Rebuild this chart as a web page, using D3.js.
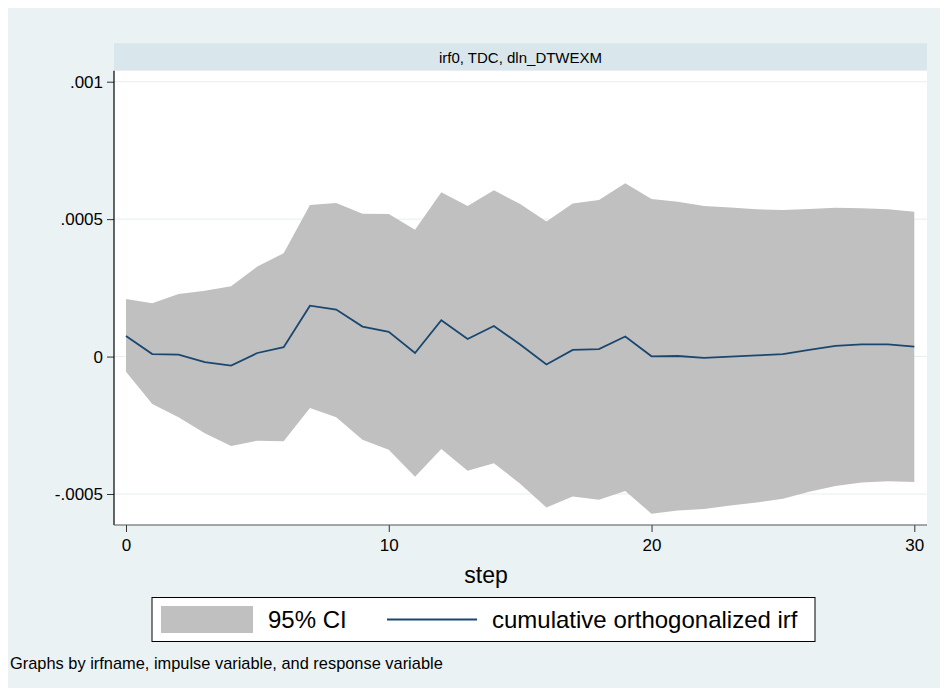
<!DOCTYPE html>
<html>
<head>
<meta charset="utf-8">
<script src="https://cdn.jsdelivr.net/npm/d3@7"></script>
<style>
  body { margin: 0; background: #ffffff; }
  text { font-family: "Liberation Sans", Arial, Helvetica, sans-serif; fill: #000; }
</style>
</head>
<body>
<div id="chart"></div>
<script>
// Data
const steps = d3.range(0, 31);
const irf = [0.75, 0.09, 0.07, -0.20, -0.33, 0.13, 0.34, 1.85, 1.71, 1.09,
             0.90, 0.13, 1.32, 0.64, 1.11, 0.44, -0.29, 0.24, 0.27, 0.73,
             0.01, 0.02, -0.05, 0.00, 0.04, 0.09, 0.24, 0.39, 0.44, 0.44, 0.36].map(v => v * 1e-4);
const upper = [2.09, 1.94, 2.28, 2.39, 2.56, 3.28, 3.76, 5.51, 5.59, 5.20,
               5.19, 4.61, 5.98, 5.48, 6.05, 5.55, 4.91, 5.57, 5.70, 6.31,
               5.73, 5.63, 5.48, 5.42, 5.36, 5.33, 5.37, 5.41, 5.40, 5.36, 5.27].map(v => v * 1e-4);
const lower = [-0.55, -1.73, -2.21, -2.79, -3.25, -3.06, -3.08, -1.87, -2.21, -3.03,
               -3.39, -4.37, -3.36, -4.15, -3.88, -4.63, -5.49, -5.09, -5.21, -4.89,
               -5.72, -5.60, -5.55, -5.42, -5.31, -5.17, -4.92, -4.71, -4.58, -4.54, -4.56].map(v => v * 1e-4);
const yTicks = [-0.0005, 0, 0.0005, 0.001];
const yTickLabels = ['-.0005', '0', '.0005', '.001'];
const xTicks = [0, 10, 20, 30];

const Theme = {
  bg: '#eaf2f3',
  strip: '#d9e6eb',
  grid: '#e6eef1',
  ci: '#c0c0c0',
  line: '#1a476f'
};

const width = 948, height = 696;
const plot = { left: 114, right: 927, top: 70.7, bottom: 525 };

const svg = d3.select('#chart').append('svg')
  .attr('width', width)
  .attr('height', height);

// Graph region background
svg.append('rect')
  .attr('x', 8).attr('y', 8)
  .attr('width', width - 16).attr('height', height - 16)
  .attr('fill', Theme.bg);

// Header strip
svg.append('rect')
  .attr('x', plot.left).attr('y', 43.3)
  .attr('width', plot.right - plot.left).attr('height', plot.top - 43.3)
  .attr('fill', Theme.strip);
svg.append('text')
  .attr('x', (plot.left + plot.right) / 2).attr('y', 62.5)
  .attr('text-anchor', 'middle')
  .style('font-size', '15px')
  .text('irf0, TDC, dln_DTWEXM');

// Plot region
svg.append('rect')
  .attr('x', plot.left).attr('y', plot.top)
  .attr('width', plot.right - plot.left).attr('height', plot.bottom - plot.top)
  .attr('fill', '#ffffff');

// Scales
const xScale = d3.scaleLinear().domain([0, 30]).range([126, 914.3]);
const yScale = d3.scaleLinear().domain([-0.0005, 0.001]).range([494, 81.7]);

// Grid lines
svg.append('g')
  .selectAll('line')
  .data(yTicks)
  .join('line')
    .attr('x1', plot.left).attr('x2', plot.right)
    .attr('y1', d => yScale(d)).attr('y2', d => yScale(d))
    .attr('stroke', Theme.grid)
    .attr('stroke-width', 1);

// CI band
const area = d3.area()
  .x((d, i) => xScale(steps[i]))
  .y0((d, i) => yScale(lower[i]))
  .y1((d, i) => yScale(upper[i]));
svg.append('path')
  .datum(steps)
  .attr('d', area)
  .attr('fill', Theme.ci);

// IRF line
const line = d3.line()
  .x((d, i) => xScale(steps[i]))
  .y((d, i) => yScale(irf[i]));
svg.append('path')
  .datum(steps)
  .attr('d', line)
  .attr('fill', 'none')
  .attr('stroke', Theme.line)
  .attr('stroke-width', 1.8);

// Y axis
const yAxis = d3.axisLeft(yScale)
  .tickValues(yTicks)
  .tickFormat((d, i) => yTickLabels[i])
  .tickSize(7)
  .tickSizeOuter(0)
  .tickPadding(4);
const gy = svg.append('g')
  .attr('transform', `translate(${plot.left},0)`)
  .call(yAxis);
gy.select('.domain').remove();
gy.selectAll('.tick line').attr('stroke', '#333');
gy.selectAll('.tick text')
  .style('font-size', '17px')
  .style('font-family', '"Liberation Sans", Arial, sans-serif')
  .attr('fill', '#000');
svg.append('line')
  .attr('x1', plot.left).attr('x2', plot.left)
  .attr('y1', plot.top).attr('y2', plot.bottom)
  .attr('stroke', '#000').attr('stroke-width', 1.2);

// X axis
const xAxis = d3.axisBottom(xScale)
  .tickValues(xTicks)
  .tickSize(7)
  .tickSizeOuter(0)
  .tickPadding(7);
const gx = svg.append('g')
  .attr('transform', `translate(0,${plot.bottom})`)
  .call(xAxis);
gx.select('.domain').remove();
gx.selectAll('.tick line').attr('stroke', '#333');
gx.selectAll('.tick text')
  .style('font-size', '17px')
  .style('font-family', '"Liberation Sans", Arial, sans-serif')
  .attr('fill', '#000');
svg.append('line')
  .attr('x1', plot.left).attr('x2', plot.right)
  .attr('y1', plot.bottom).attr('y2', plot.bottom)
  .attr('stroke', '#555').attr('stroke-width', 1.2);

// X title
svg.append('text')
  .attr('x', 486).attr('y', 583)
  .attr('text-anchor', 'middle')
  .style('font-size', '23px')
  .text('step');

// Legend
const legend = svg.append('g');
legend.append('rect')
  .attr('x', 152).attr('y', 597.5)
  .attr('width', 663).attr('height', 44)
  .attr('fill', '#ffffff')
  .attr('stroke', '#000').attr('stroke-width', 1);
legend.append('rect')
  .attr('x', 161).attr('y', 606)
  .attr('width', 92).attr('height', 27)
  .attr('fill', Theme.ci);
legend.append('text')
  .attr('x', 268).attr('y', 628)
  .style('font-size', '24px')
  .text('95% CI');
legend.append('line')
  .attr('x1', 387).attr('x2', 477)
  .attr('y1', 619.5).attr('y2', 619.5)
  .attr('stroke', Theme.line).attr('stroke-width', 2);
legend.append('text')
  .attr('x', 492).attr('y', 628)
  .style('font-size', '24px')
  .text('cumulative orthogonalized irf');

// Note
svg.append('text')
  .attr('x', 10).attr('y', 669)
  .style('font-size', '16.4px')
  .text('Graphs by irfname, impulse variable, and response variable');
</script>
</body>
</html>
